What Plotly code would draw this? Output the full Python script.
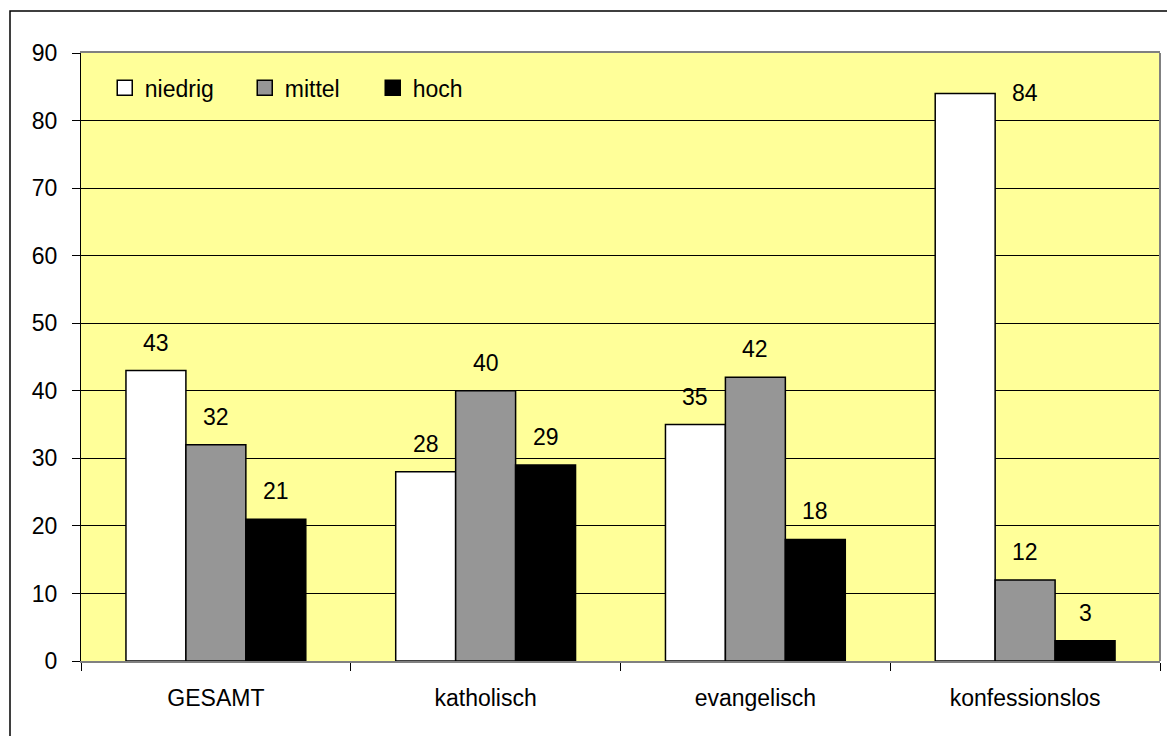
import plotly.graph_objects as go

# Kategorien und Werte (Prozent)
categories = ["GESAMT", "katholisch", "evangelisch", "konfessionslos"]
series_names = ["niedrig", "mittel", "hoch"]
niedrig = [43, 28, 35, 84]
mittel = [32, 40, 42, 12]
hoch = [21, 29, 18, 3]
y_ticks = [0, 10, 20, 30, 40, 50, 60, 70, 80, 90]

series_values = [niedrig, mittel, hoch]
fill_colors = ["#FFFFFF", "#969696", "#000000"]
legend_widths = [95, 83, 83]
FONT = "Liberation Sans, Arial, sans-serif"
FONT_SIZE = 23

fig = go.Figure()

for name, vals, color, lw in zip(series_names, series_values, fill_colors, legend_widths):
    fig.add_trace(go.Bar(
        x=categories, y=vals, name=name,
        marker=dict(color=color, line=dict(color="#000000", width=1.5)),
        showlegend=False,
    ))
    # legend entry with a larger square swatch
    fig.add_trace(go.Scatter(
        x=[None], y=[None], mode="markers", name=name, legendwidth=lw,
        marker=dict(symbol="square", size=15, color=color,
                    line=dict(color="#000000", width=1.5)),
    ))

# value labels above each bar
bar_px = 60
annotations = []
for i, vals in enumerate(series_values):
    for cat, v in zip(categories, vals):
        dx = (i - 1) * bar_px
        dy = 28
        if v == max(max(s) for s in series_values):
            # the tallest bar carries its label beside the top
            dx += bar_px
            dy = 1
        annotations.append(dict(
            x=cat, y=v, xref="x", yref="y", text=str(v), showarrow=False,
            xshift=dx, yshift=dy, yanchor="middle", xanchor="center",
            font=dict(family=FONT, size=FONT_SIZE, color="#000000"),
        ))

shapes = [
    # outer chart frame
    dict(type="rect", xref="paper", yref="paper", x0=-0.0658, x1=1.2,
         y0=-0.3, y1=1.069, line=dict(color="#000000", width=1.5),
         fillcolor="rgba(0,0,0,0)", layer="below"),
    # right edge of the plot area
    dict(type="line", xref="paper", yref="paper", x0=1, x1=1, y0=0, y1=1,
         line=dict(color="#808080", width=2)),
]

fig.update_layout(
    width=1167, height=736,
    margin=dict(l=81, r=7, t=53, b=75),
    paper_bgcolor="#FFFFFF",
    plot_bgcolor="#FFFF99",
    barmode="group", bargap=1/3, bargroupgap=0,
    font=dict(family=FONT, size=FONT_SIZE, color="#000000"),
    annotations=annotations,
    shapes=shapes,
    legend=dict(orientation="h", x=0.022, y=0.978, xanchor="left", yanchor="top",
                bgcolor="rgba(0,0,0,0)", font=dict(family=FONT, size=FONT_SIZE),
                entrywidthmode="pixels", itemclick=False),
    xaxis=dict(
        type="category", showgrid=False, zeroline=False,
        showline=True, linecolor="#808080", linewidth=2, mirror=True,
        ticks="outside", tickson="boundaries", ticklen=8, tickcolor="#000000",
        tickwidth=1, ticklabelstandoff=15,
        tickfont=dict(family=FONT, size=FONT_SIZE),
    ),
    yaxis=dict(
        range=[0, 90], tickvals=y_ticks, showgrid=True, gridcolor="#000000",
        gridwidth=1, zeroline=False, showline=True, linecolor="#000000",
        linewidth=1, ticks="outside", ticklen=8, tickcolor="#000000",
        ticklabelstandoff=10, tickfont=dict(family=FONT, size=FONT_SIZE),
    ),
)

fig.write_html("out.html")
